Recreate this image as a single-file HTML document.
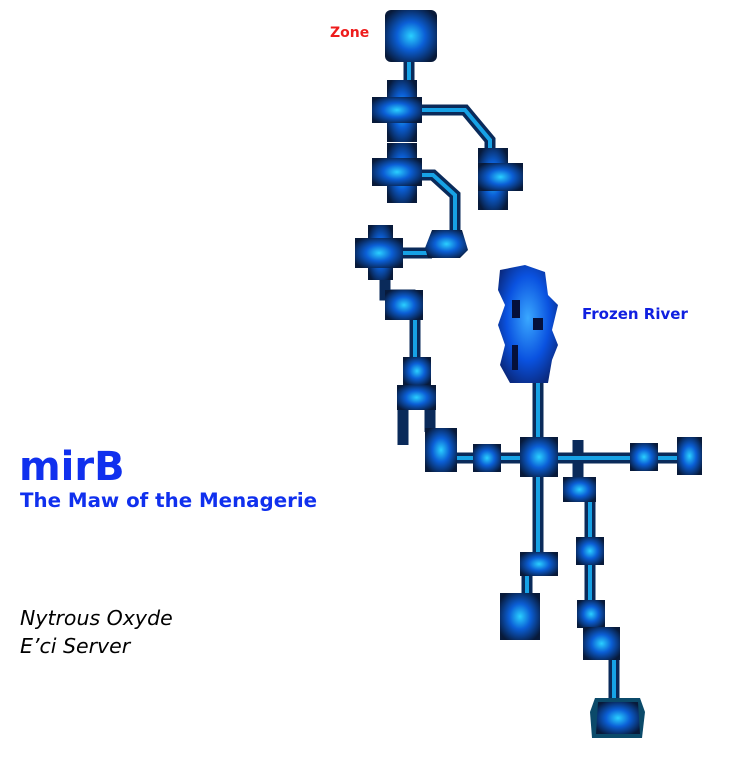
<!DOCTYPE html>
<html><head><meta charset="utf-8"><style>
body{margin:0;background:#fff;width:738px;height:766px;overflow:hidden;position:relative;font-family:"DejaVu Sans","Liberation Sans",sans-serif}
.t{position:absolute;white-space:nowrap}
</style></head><body>
<svg width="738" height="766" style="position:absolute;left:0;top:0">
<defs>
<radialGradient id="g" cx="50%" cy="50%" r="60%"><stop offset="0" stop-color="#2ad0ff"/><stop offset="0.45" stop-color="#0b5fd6"/><stop offset="1" stop-color="#081a3a"/></radialGradient>
<radialGradient id="g2" cx="50%" cy="45%" r="60%"><stop offset="0" stop-color="#3aa8ff"/><stop offset="0.6" stop-color="#0a52e0"/><stop offset="1" stop-color="#0a2a80"/></radialGradient>
</defs>
<g stroke-linecap="butt" fill="none">
<g stroke="#0a2a5a" stroke-width="11">
<path d="M409 60V88"/><path d="M415 110H465L490 140V152"/><path d="M415 175H433L455 195V230"/><path d="M400 253H432"/>
<path d="M385 275V295H410V320"/><path d="M415 320V360"/><path d="M403 405V445"/><path d="M430 405V432"/>
<path d="M455 458H530"/><path d="M538 380V560"/><path d="M558 458H680"/><path d="M578 440V478"/>
<path d="M590 495V605"/><path d="M590 625V650H614V700"/><path d="M527 570V598"/>
</g>
<g stroke="#1ab8ff" stroke-width="4" opacity="0.85">
<path d="M409 60V88"/><path d="M415 110H465L490 140V152"/><path d="M415 175H433L455 195V230"/><path d="M400 253H432"/>
<path d="M415 320V360"/><path d="M455 458H530"/><path d="M538 380V560"/><path d="M558 458H680"/>
<path d="M590 495V605"/><path d="M614 660V700"/><path d="M527 570V598"/>
</g>
</g>
<g fill="url(#g)">
<rect x="385" y="10" width="52" height="52" rx="6"/>
<rect x="387" y="80" width="30" height="62"/><rect x="372" y="97" width="50" height="26"/>
<rect x="387" y="143" width="30" height="60"/><rect x="372" y="158" width="50" height="28"/>
<rect x="478" y="148" width="30" height="62"/><rect x="478" y="163" width="45" height="28"/>
<polygon points="432,230 462,230 468,250 460,258 428,258 425,248"/>
<rect x="368" y="225" width="25" height="55"/><rect x="355" y="238" width="48" height="30"/>
<rect x="385" y="290" width="38" height="30"/>
<rect x="403" y="357" width="28" height="28"/><rect x="397" y="385" width="39" height="25"/>
<rect x="425" y="428" width="32" height="44"/>
<rect x="473" y="444" width="28" height="28"/>
<rect x="520" y="437" width="38" height="40"/>
<rect x="630" y="443" width="28" height="28"/><rect x="677" y="437" width="25" height="38"/>
<rect x="563" y="477" width="33" height="25"/>
<rect x="576" y="537" width="28" height="28"/><rect x="577" y="600" width="28" height="28"/>
<rect x="583" y="627" width="37" height="33"/>
<rect x="520" y="552" width="38" height="24"/>
<rect x="500" y="593" width="40" height="47"/>
<polygon points="595,698 640,698 645,712 642,738 592,738 590,712" fill="#0b4a6a"/>
<polygon points="598,702 638,702 640,734 596,734" fill="url(#g)"/>
</g>
<g fill="url(#g2)">
<polygon points="500,270 525,265 545,272 548,295 558,305 552,330 558,345 552,360 548,383 510,383 500,365 505,345 498,325 505,305 498,290"/>
</g>
<rect x="512" y="300" width="8" height="18" fill="#05103a"/><rect x="533" y="318" width="10" height="12" fill="#05103a"/><rect x="512" y="345" width="6" height="25" fill="#05103a"/>
</svg>
<div class="t" style="left:330px;top:25px;color:#ee1c1c;font-weight:bold;font-size:14px">Zone</div>
<div class="t" style="left:582px;top:305px;color:#1020e0;font-weight:bold;font-size:15px">Frozen River</div>
<div class="t" style="left:19px;top:443px;color:#1030ee;font-weight:bold;font-size:40px;line-height:48px">mirB</div>
<div class="t" style="left:20px;top:489px;color:#1030ee;font-weight:bold;font-size:19.8px">The Maw of the Menagerie</div>
<div class="t" style="left:20px;top:606px;color:#000;font-style:italic;font-size:20.5px">Nytrous Oxyde</div>
<div class="t" style="left:20px;top:634px;color:#000;font-style:italic;font-size:20.5px">E’ci Server</div>
</body></html>
